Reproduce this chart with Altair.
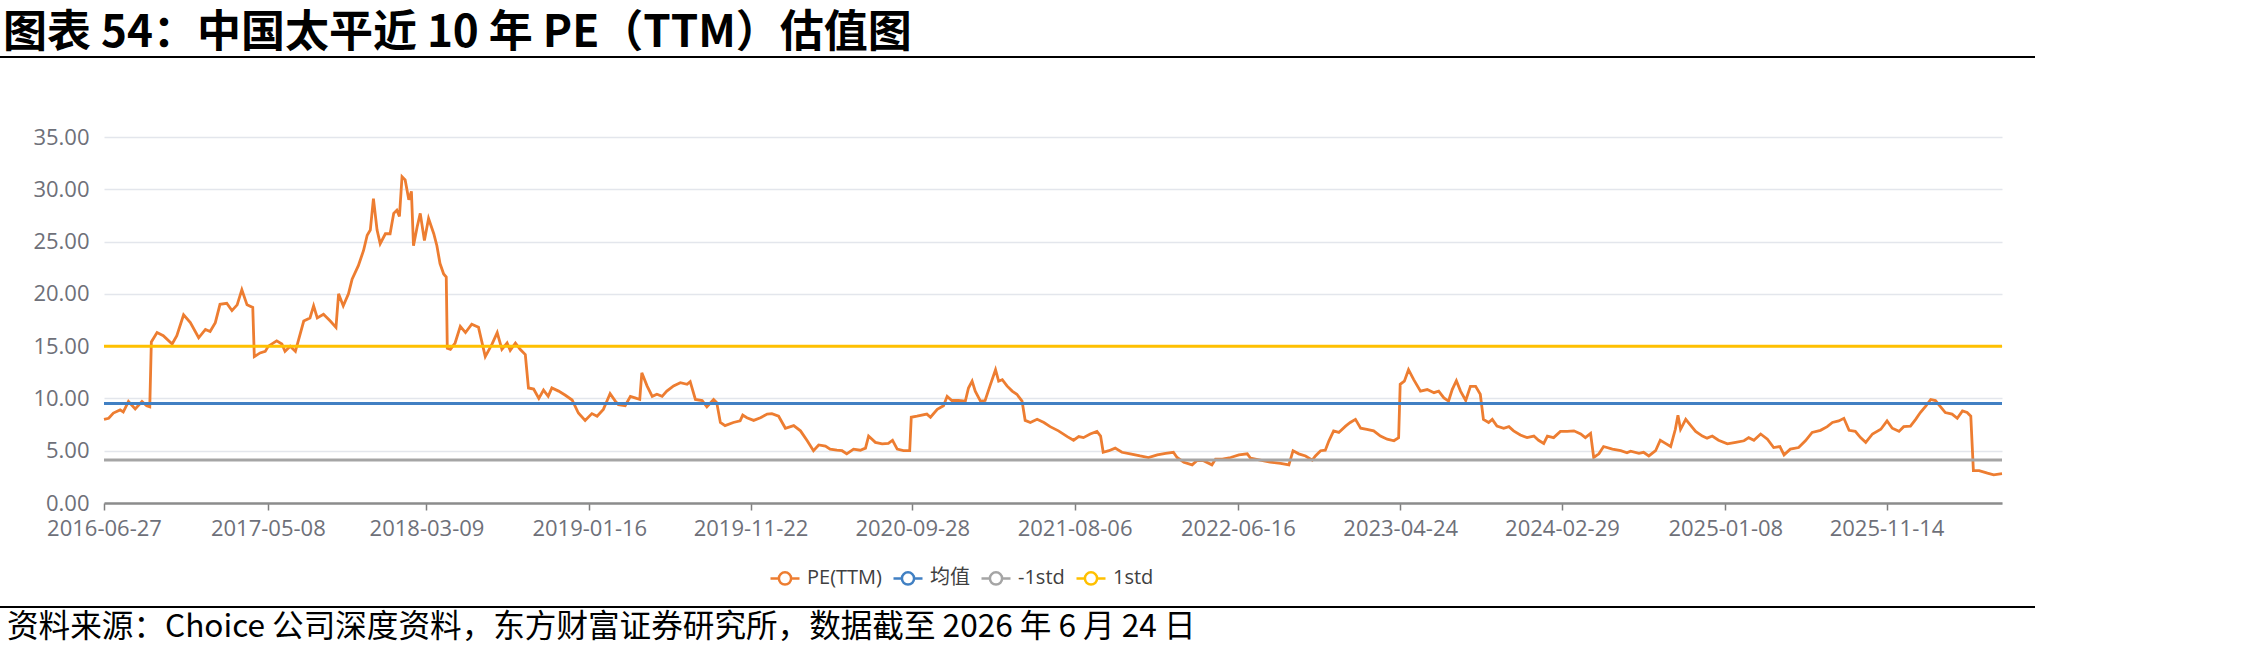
import altair as alt
import pandas as pd

TITLE = "图表 54：中国太平近 10 年 PE（TTM）估值图"
SOURCE = "资料来源：Choice 公司深度资料，东方财富证券研究所，数据截至 2026 年 6 月 24 日"

SERIES = ["PE(TTM)", "均值", "-1std", "1std"]
COLORS = ["#ED7D31", "#4180C3", "#A5A5A5", "#FFC000"]

MEAN = 9.52
LOWER_1STD = 4.12
UPPER_1STD = 14.98

START_DATE = "2016-06-27"
END_DATE = "2026-06-24"

TICK_LABELS = ["2016-06-27", "2017-05-08", "2018-03-09", "2019-01-16", "2019-11-22",
               "2020-09-28", "2021-08-06", "2022-06-16", "2023-04-24", "2024-02-29",
               "2025-01-08", "2025-11-14"]
Y_TICKS = [0, 5, 10, 15, 20, 25, 30, 35]

PE_DATES = [
    "2016-06-27", "2016-07-06", "2016-07-15", "2016-07-28", "2016-08-03", "2016-08-13", "2016-08-26",
    "2016-09-08", "2016-09-17", "2016-09-23", "2016-09-26", "2016-10-07", "2016-10-19", "2016-11-05",
    "2016-11-14", "2016-11-27", "2016-12-10", "2016-12-26", "2017-01-08", "2017-01-17", "2017-01-27",
    "2017-02-05", "2017-02-18", "2017-02-28", "2017-03-10", "2017-03-19", "2017-03-29", "2017-04-09",
    "2017-04-12", "2017-04-23", "2017-05-03", "2017-05-09", "2017-05-25", "2017-06-04", "2017-06-10",
    "2017-06-20", "2017-06-30", "2017-07-16", "2017-07-28", "2017-08-04", "2017-08-11", "2017-08-23",
    "2017-09-05", "2017-09-16", "2017-09-21", "2017-09-30", "2017-10-10", "2017-10-17", "2017-10-29",
    "2017-11-08", "2017-11-15", "2017-11-21", "2017-11-27", "2017-12-04", "2017-12-10", "2017-12-20",
    "2017-12-29", "2018-01-05", "2018-01-11", "2018-01-16", "2018-01-21", "2018-01-27", "2018-02-03",
    "2018-02-08", "2018-02-12", "2018-02-19", "2018-02-25", "2018-03-05", "2018-03-13", "2018-03-23",
    "2018-03-29", "2018-04-04", "2018-04-11", "2018-04-16", "2018-04-18", "2018-04-24", "2018-05-03",
    "2018-05-13", "2018-05-23", "2018-06-04", "2018-06-17", "2018-06-30", "2018-07-13", "2018-07-23",
    "2018-08-01", "2018-08-11", "2018-08-17", "2018-08-27", "2018-09-05", "2018-09-15", "2018-09-21",
    "2018-10-01", "2018-10-11", "2018-10-20", "2018-10-29", "2018-11-05", "2018-11-18", "2018-12-01",
    "2018-12-14", "2018-12-26", "2019-01-08", "2019-01-21", "2019-01-31", "2019-02-12", "2019-02-19",
    "2019-02-25", "2019-03-07", "2019-03-13", "2019-03-26", "2019-04-05", "2019-04-14", "2019-04-23",
    "2019-04-27", "2019-05-07", "2019-05-17", "2019-05-26", "2019-06-05", "2019-06-14", "2019-06-27",
    "2019-07-10", "2019-07-23", "2019-07-29", "2019-08-08", "2019-08-21", "2019-08-30", "2019-09-12",
    "2019-09-18", "2019-09-25", "2019-10-04", "2019-10-20", "2019-11-02", "2019-11-07", "2019-11-15",
    "2019-11-28", "2019-12-11", "2019-12-24", "2020-01-02", "2020-01-15", "2020-01-28", "2020-02-13",
    "2020-02-26", "2020-03-10", "2020-03-22", "2020-04-01", "2020-04-14", "2020-04-23", "2020-05-06",
    "2020-05-16", "2020-05-25", "2020-06-07", "2020-06-20", "2020-06-30", "2020-07-06", "2020-07-19",
    "2020-08-01", "2020-08-13", "2020-08-21", "2020-08-30", "2020-09-11", "2020-09-23", "2020-09-26",
    "2020-10-07", "2020-10-26", "2020-11-02", "2020-11-15", "2020-11-27", "2020-12-04", "2020-12-13",
    "2020-12-26", "2021-01-08", "2021-01-14", "2021-01-21", "2021-01-27", "2021-02-06", "2021-02-15",
    "2021-02-25", "2021-03-07", "2021-03-13", "2021-03-20", "2021-03-29", "2021-04-08", "2021-04-17",
    "2021-04-27", "2021-05-03", "2021-05-13", "2021-05-26", "2021-06-08", "2021-06-20", "2021-07-06",
    "2021-07-23", "2021-08-04", "2021-08-14", "2021-08-23", "2021-09-05", "2021-09-18", "2021-09-25",
    "2021-09-30", "2021-10-11", "2021-10-23", "2021-11-05", "2021-11-21", "2021-12-10", "2021-12-26",
    "2022-01-12", "2022-01-28", "2022-02-12", "2022-02-19", "2022-03-04", "2022-03-20", "2022-03-29",
    "2022-04-11", "2022-04-27", "2022-05-04", "2022-05-17", "2022-06-02", "2022-06-18", "2022-07-04",
    "2022-07-10", "2022-07-29", "2022-08-17", "2022-09-06", "2022-09-22", "2022-09-30", "2022-10-11",
    "2022-10-24", "2022-11-06", "2022-11-12", "2022-11-22", "2022-12-01", "2022-12-08", "2022-12-17",
    "2022-12-27", "2023-01-09", "2023-01-18", "2023-01-28", "2023-02-07", "2023-02-19", "2023-03-04",
    "2023-03-17", "2023-03-30", "2023-04-12", "2023-04-21", "2023-04-24", "2023-05-02", "2023-05-10",
    "2023-05-20", "2023-06-02", "2023-06-15", "2023-06-28", "2023-07-07", "2023-07-17", "2023-07-26",
    "2023-08-02", "2023-08-10", "2023-08-18", "2023-08-28", "2023-09-06", "2023-09-16", "2023-09-25",
    "2023-10-01", "2023-10-11", "2023-10-18", "2023-10-27", "2023-11-09", "2023-11-19", "2023-11-28",
    "2023-12-11", "2023-12-24", "2024-01-06", "2024-01-15", "2024-01-25", "2024-02-01", "2024-02-13",
    "2024-02-26", "2024-03-10", "2024-03-23", "2024-04-05", "2024-04-14", "2024-04-24", "2024-04-30",
    "2024-05-10", "2024-05-19", "2024-06-05", "2024-06-21", "2024-07-03", "2024-07-10", "2024-07-26",
    "2024-08-04", "2024-08-14", "2024-08-27", "2024-09-05", "2024-09-15", "2024-09-25", "2024-10-04",
    "2024-10-09", "2024-10-14", "2024-10-24", "2024-11-02", "2024-11-12", "2024-11-25", "2024-12-04",
    "2024-12-14", "2024-12-26", "2025-01-12", "2025-01-28", "2025-02-13", "2025-02-22", "2025-03-04",
    "2025-03-17", "2025-03-30", "2025-04-11", "2025-04-23", "2025-05-01", "2025-05-13", "2025-05-29",
    "2025-06-11", "2025-06-24", "2025-07-10", "2025-07-23", "2025-08-02", "2025-08-14", "2025-08-24",
    "2025-09-03", "2025-09-15", "2025-09-25", "2025-10-05", "2025-10-18", "2025-11-03", "2025-11-15",
    "2025-11-25", "2025-12-08", "2025-12-17", "2025-12-30", "2026-01-09", "2026-01-18", "2026-01-28",
    "2026-02-07", "2026-02-16", "2026-02-26", "2026-03-07", "2026-03-20", "2026-03-30", "2026-04-09",
    "2026-04-18", "2026-04-25", "2026-04-30", "2026-05-11", "2026-05-27", "2026-06-08", "2026-06-24",
]

PE_VALUES = [
    8.0, 8.1, 8.6, 8.9, 8.7, 9.7, 9.0,
    9.7, 9.3, 9.2, 15.4, 16.3, 16.0, 15.2,
    16.0, 18.0, 17.25, 15.8, 16.6, 16.4, 17.25,
    19.0, 19.1, 18.4, 18.95, 20.4, 18.95, 18.7,
    14.0, 14.35, 14.5, 15.0, 15.5, 15.2, 14.5,
    15.0, 14.5, 17.4, 17.7, 18.85, 17.7, 18.05,
    17.4, 16.8, 20.0, 18.85, 20.0, 21.4, 22.7,
    24.15, 25.6, 26.1, 29.1, 26.1, 24.8, 25.75,
    25.75, 27.7, 28.0, 27.4, 31.2, 30.9, 29.0,
    29.8, 24.6, 26.4, 27.7, 25.1, 27.2, 25.75,
    24.6, 22.9, 21.9, 21.6, 14.8, 14.7, 15.3,
    16.9, 16.3, 17.1, 16.8, 14.0, 15.2, 16.3,
    14.7, 15.3, 14.6, 15.3, 14.7, 14.2, 11.0,
    10.9, 10.0, 10.8, 10.2, 11.0, 10.7, 10.3,
    9.85, 8.6, 7.9, 8.55, 8.3, 8.95, 9.75,
    10.45, 9.75, 9.4, 9.3, 10.2, 10.05, 9.9,
    12.45, 11.2, 10.2, 10.4, 10.2, 10.7, 11.2,
    11.5, 11.35, 11.6, 9.9, 9.8, 9.2, 9.9,
    9.6, 7.7, 7.4, 7.7, 7.85, 8.4, 8.15,
    7.9, 8.15, 8.5, 8.55, 8.3, 7.15, 7.4,
    6.9, 5.95, 5.0, 5.55, 5.45, 5.15, 5.05,
    5.0, 4.7, 5.15, 5.05, 5.25, 6.4, 5.8,
    5.65, 5.7, 6.0, 5.15, 5.0, 5.0, 8.2,
    8.3, 8.5, 8.2, 8.95, 9.3, 10.2, 9.8,
    9.8, 9.75, 11.0, 11.65, 10.7, 9.75, 9.8,
    11.3, 12.75, 11.65, 11.8, 11.2, 10.7, 10.4,
    9.75, 7.9, 7.7, 8.0, 7.7, 7.3, 6.9,
    6.35, 6.0, 6.35, 6.25, 6.6, 6.85, 6.4,
    4.85, 5.0, 5.25, 4.85, 4.7, 4.5, 4.35,
    4.6, 4.75, 4.85, 4.35, 3.9, 3.65, 4.05,
    4.05, 3.65, 4.2, 4.2, 4.35, 4.6, 4.7,
    4.3, 4.1, 3.9, 3.8, 3.65, 5.0, 4.7,
    4.5, 4.1, 4.5, 5.0, 5.05, 5.95, 6.9,
    6.75, 7.35, 7.7, 8.0, 7.15, 7.05, 6.9,
    6.4, 6.1, 5.95, 6.25, 11.35, 11.65, 12.75,
    11.8, 10.7, 10.85, 10.55, 10.7, 10.05, 9.75,
    10.85, 11.7, 10.7, 9.8, 11.15, 11.15, 10.4,
    8.0, 7.7, 8.0, 7.35, 7.15, 7.3, 6.9,
    6.5, 6.25, 6.4, 6.0, 5.7, 6.4, 6.25,
    6.85, 6.85, 6.9, 6.6, 6.25, 6.65, 4.35,
    4.7, 5.4, 5.15, 5.0, 4.8, 4.95, 4.75,
    4.85, 4.5, 5.0, 6.0, 5.7, 5.4, 7.05,
    8.4, 7.05, 8.0, 7.45, 6.85, 6.4, 6.2,
    6.4, 6.0, 5.65, 5.8, 5.95, 6.25, 6.0,
    6.6, 6.1, 5.3, 5.4, 4.6, 5.15, 5.3,
    5.95, 6.75, 6.95, 7.3, 7.7, 7.85, 8.1,
    6.95, 6.85, 6.25, 5.8, 6.6, 7.05, 7.85,
    7.15, 6.85, 7.3, 7.35, 8.0, 8.65, 9.25,
    9.9, 9.8, 9.2, 8.65, 8.5, 8.1, 8.8,
    8.65, 8.3, 3.1, 3.1, 2.85, 2.7, 2.8,
]


def utc_ms(s):
    return int(pd.Timestamp(s, tz="UTC").value // 10**6)


pe_df = pd.DataFrame({"date": PE_DATES, "value": PE_VALUES, "series": SERIES[0]})
ref_df = pd.DataFrame({
    "date": [START_DATE, END_DATE] * 3,
    "value": [MEAN, MEAN, LOWER_1STD, LOWER_1STD, UPPER_1STD, UPPER_1STD],
    "series": [SERIES[1]] * 2 + [SERIES[2]] * 2 + [SERIES[3]] * 2,
})

LEGEND_SYMBOL = ("M-1,0L-0.42,0M0.42,0L1,0M-0.42,0A0.42,0.42,0,1,1,0.42,0"
                 "A0.42,0.42,0,1,1,-0.42,0Z")

LABEL_FONT = "Open Sans, Noto Sans CJK SC, sans-serif"

x_enc = alt.X(
    "date:T",
    scale=alt.Scale(type="utc", domain=[utc_ms(START_DATE), utc_ms(END_DATE)], nice=False),
    axis=alt.Axis(
        values=[utc_ms(t) for t in TICK_LABELS],
        labelExpr="utcFormat(datum.value, '%Y-%m-%d')",
        title=None, grid=False, labelFont=LABEL_FONT, labelFontSize=22,
        labelColor="#6E7079", labelPadding=8, tickSize=7, tickColor="#7F7F7F",
        tickWidth=1.5, domainColor="#8C8C8C", domainWidth=2.5,
        labelOverlap=False, labelFlush=False,
    ),
)
y_enc = alt.Y(
    "value:Q",
    scale=alt.Scale(domain=[0, 35], nice=False, zero=True),
    axis=alt.Axis(
        values=Y_TICKS, format=".2f", title=None, domain=False, ticks=False,
        grid=True, gridColor="#E3E6EC", gridWidth=1.5, labelFont=LABEL_FONT,
        labelFontSize=22, labelColor="#6E7079", labelPadding=15,
    ),
)
color_enc = alt.Color(
    "series:N",
    scale=alt.Scale(domain=SERIES, range=COLORS),
    sort=SERIES,
    legend=alt.Legend(
        title=None, orient="none", legendX=665, legendY=425, direction="horizontal",
        symbolType=LEGEND_SYMBOL, symbolSize=841, symbolStrokeWidth=2.5,
        symbolFillColor="white", labelFont=LABEL_FONT, labelFontSize=20,
        labelColor="#404040", labelOffset=6, columnPadding=6, padding=0,
    ),
)

pe_line = alt.Chart(pe_df).mark_line(strokeWidth=2.8).encode(x=x_enc, y=y_enc, color=color_enc)
ref_lines = alt.Chart(ref_df).mark_line(strokeWidth=3).encode(
    x=x_enc, y=y_enc, color=color_enc, detail="series:N")

title_text = alt.Chart(pd.DataFrame({"t": [TITLE]})).mark_text(
    align="left", baseline="middle", font="Noto Sans CJK SC", fontSize=44,
    fontWeight="bold", color="#000000",
).encode(text="t:N", x=alt.value(-101), y=alt.value(-103))

title_rule = alt.Chart(pd.DataFrame({"k": [0]})).mark_rule(color="#000000", strokeWidth=2).encode(
    x=alt.value(-104), x2=alt.value(1931), y=alt.value(-80))

footer_rule = alt.Chart(pd.DataFrame({"k": [0]})).mark_rule(color="#000000", strokeWidth=2).encode(
    x=alt.value(-104), x2=alt.value(1931), y=alt.value(470))

footer_text = alt.Chart(pd.DataFrame({"t": [SOURCE]})).mark_text(
    align="left", baseline="middle", font="Noto Sans CJK SC", fontSize=31.6, color="#000000",
).encode(text="t:N", x=alt.value(-97), y=alt.value(491))

chart = alt.layer(
    pe_line, ref_lines, title_text, title_rule, footer_rule, footer_text
).properties(
    width=1898, height=366,
    autosize=alt.AutoSizeParams(type="none"),
    padding={"left": 104, "top": 137, "right": 243, "bottom": 158},
).configure(background="white").configure_view(strokeWidth=0)

chart.save("out.html", embed_options={"renderer": "svg", "actions": False})
